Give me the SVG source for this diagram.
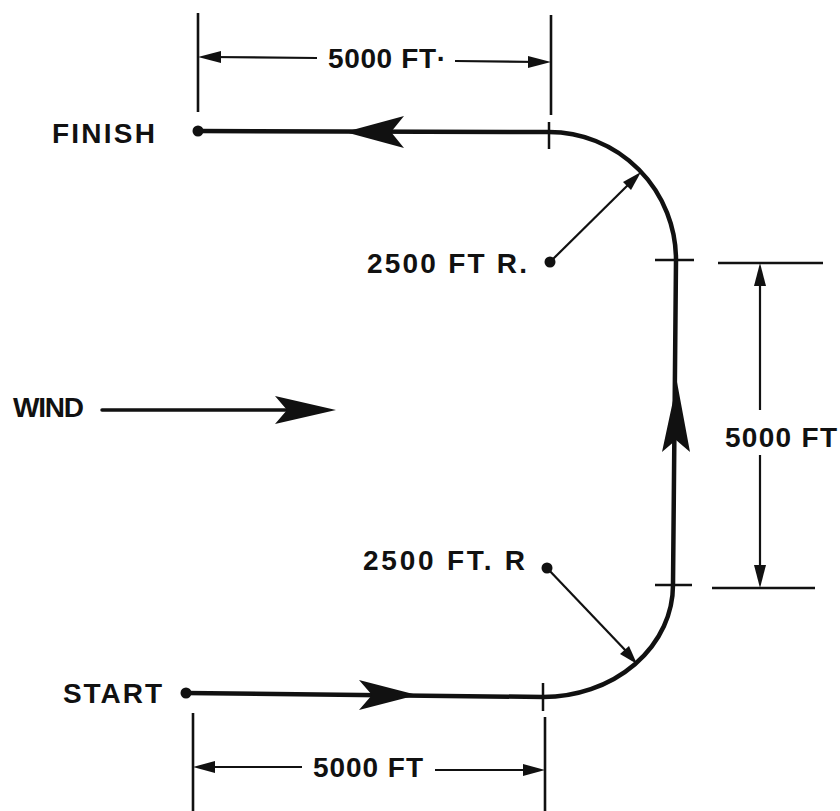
<svg xmlns="http://www.w3.org/2000/svg" width="840" height="811" viewBox="0 0 840 811">
<style>
.t{font-family:"Liberation Sans",Arial,sans-serif;font-weight:bold;font-size:28px;fill:#111}
.path{fill:none;stroke:#111;stroke-width:4.5;stroke-linecap:round}
.dim{fill:none;stroke:#111;stroke-width:2.2}
.ext{fill:none;stroke:#111;stroke-width:2.6}
.tick{fill:none;stroke:#111;stroke-width:2.5}
.head{fill:#111;stroke:none}
</style>
<rect width="840" height="811" fill="#fff"/>

<g id="connectors">
  <!-- flight path -->
  <path class="path" d="M198,131 L549,132 A127,128 0 0 1 676,260 L673,585 A130,112 0 0 1 543,697 L186,693"/>
  <!-- path direction arrowheads -->
  <path class="head" d="M345,132 L404,116 L391,132 L404,148 Z"/>
  <path class="head" d="M677,382 L690,452 L676,440 L662,452 Z"/>
  <path class="head" d="M417,695 L359,680 L372,695 L359,710 Z"/>
  <!-- ticks -->
  <line class="tick" x1="549" y1="122" x2="549" y2="149"/>
  <line class="tick" x1="655" y1="260" x2="694" y2="260"/>
  <line class="tick" x1="655" y1="585" x2="692" y2="585"/>
  <line class="tick" x1="543" y1="683" x2="543" y2="711"/>
  <!-- radius arrows -->
  <line class="dim" x1="550" y1="262" x2="630" y2="183"/>
  <path class="head" d="M641,172 L631,190 L623,182 Z"/>
  <line class="dim" x1="547" y1="568" x2="627" y2="652"/>
  <path class="head" d="M637,664 L620,654 L629,646 Z"/>
  <!-- wind arrow -->
  <line x1="102" y1="410" x2="290" y2="410" stroke="#111" stroke-width="3.5" stroke-linecap="round"/>
  <path class="head" d="M336,410 L275,396 L287,410 L275,424 Z"/>
  <!-- top dimension -->
  <line class="ext" x1="198" y1="13" x2="198" y2="112"/>
  <line class="ext" x1="551" y1="15" x2="551" y2="115"/>
  <line class="dim" x1="210" y1="57" x2="317" y2="58"/>
  <path class="head" d="M198,57 L221,51 L221,63 Z"/>
  <line class="dim" x1="455" y1="61" x2="538" y2="62"/>
  <path class="head" d="M551,62 L528,56 L528,68 Z"/>
  <!-- bottom dimension -->
  <line class="ext" x1="193" y1="713" x2="193" y2="811"/>
  <line class="ext" x1="545" y1="717" x2="545" y2="811"/>
  <line class="dim" x1="205" y1="767" x2="302" y2="767"/>
  <path class="head" d="M193,767 L215,761 L215,773 Z"/>
  <line class="dim" x1="435" y1="770" x2="532" y2="770"/>
  <path class="head" d="M545,770 L523,764 L523,776 Z"/>
  <!-- right dimension -->
  <line class="ext" x1="718" y1="263" x2="823" y2="263"/>
  <line class="ext" x1="712" y1="588" x2="815" y2="588"/>
  <line class="dim" x1="760" y1="275" x2="760" y2="410"/>
  <path class="head" d="M760,263 L754,286 L766,286 Z"/>
  <line class="dim" x1="760" y1="455" x2="760" y2="575"/>
  <path class="head" d="M760,588 L754,565 L766,565 Z"/>
</g>

<g id="finish">
  <circle cx="198" cy="131" r="5.5" fill="#111"/>
  <text class="t" x="52" y="143" textLength="103" lengthAdjust="spacing">FINISH</text>
</g>
<g id="start">
  <circle cx="186" cy="693" r="5.5" fill="#111"/>
  <text class="t" x="63" y="703" textLength="99" lengthAdjust="spacing">START</text>
</g>
<g id="center-top">
  <circle cx="550" cy="262" r="5.5" fill="#111"/>
  <text class="t" x="367" y="273" textLength="160" lengthAdjust="spacing">2500 FT R.</text>
</g>
<g id="center-bottom">
  <circle cx="547" cy="568" r="5.5" fill="#111"/>
  <text class="t" x="363" y="570" textLength="162" lengthAdjust="spacing">2500 FT. R</text>
</g>
<g id="wind">
  <text class="t" x="13" y="417" textLength="71" lengthAdjust="spacing">WIND</text>
</g>
<g id="dim-top">
  <text class="t" x="328" y="68" textLength="118" lengthAdjust="spacing">5000 FT·</text>
</g>
<g id="dim-bottom">
  <text class="t" x="313" y="777" textLength="110" lengthAdjust="spacing">5000 FT</text>
</g>
<g id="dim-right">
  <text class="t" x="725" y="447" textLength="112" lengthAdjust="spacing">5000 FT</text>
</g>
</svg>
